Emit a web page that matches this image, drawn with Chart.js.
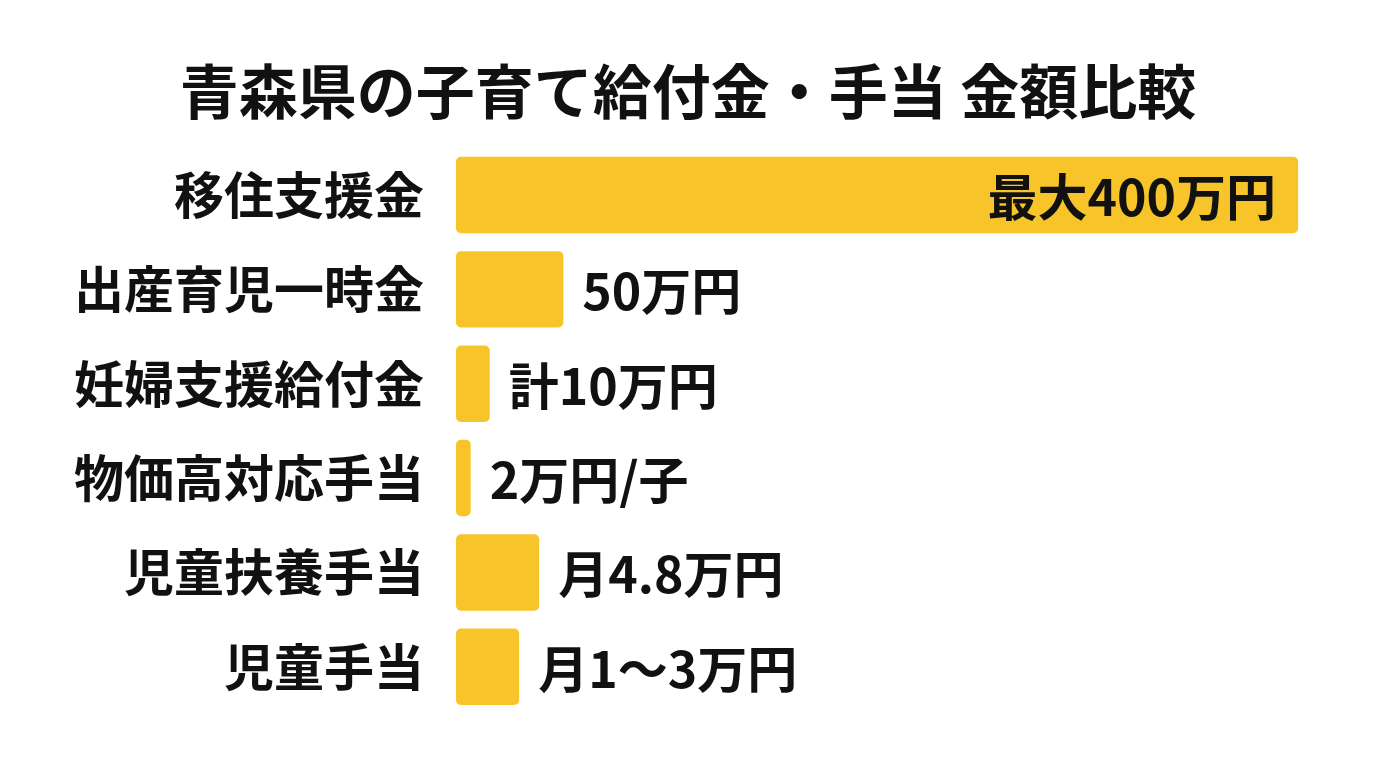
<!DOCTYPE html>
<html lang="ja">
<head>
<meta charset="utf-8">
<title>青森県の子育て給付金・手当 金額比較</title>
<script src="https://cdn.jsdelivr.net/npm/chart.js@4/dist/chart.umd.min.js"></script>
<style>
    html, body { margin: 0; padding: 0; background: #ffffff; }
    #wrap { width: 1376px; height: 768px; }
</style>
</head>
<body>
<div id="wrap"><canvas id="benefitChart"></canvas></div>
<script>

const categories = ["移住支援金", "出産育児一時金", "妊婦支援給付金", "物価高対応手当", "児童扶養手当", "児童手当"];
const barValues = [400, 51, 16, 7, 39.5, 30];
const valueLabels = ["最大400万円", "50万円", "計10万円", "2万円/子", "月4.8万円", "月1〜3万円"];
const axisMax = 437;

const fontFamily = "'Noto Sans CJK JP', 'Noto Sans', sans-serif";

// writes the amount text next to (or inside) each bar
const valueLabelPlugin = {
    id: "valueLabels",
    afterDatasetsDraw(chart) {
        const ctx = chart.ctx;
        const bars = chart.getDatasetMeta(0).data;
        ctx.save();
        ctx.font = "bold 50px " + fontFamily;
        ctx.fillStyle = "#111111";
        ctx.textBaseline = "middle";
        bars.forEach((bar, i) => {
            if (i === 0) {
                ctx.textAlign = "right";
                ctx.fillText(valueLabels[i], bar.x - 22, bar.y + 2);
            } else {
                ctx.textAlign = "left";
                ctx.fillText(valueLabels[i], bar.x + 19, bar.y + 2);
            }
        });
        ctx.restore();
    }
};

const ctx = document.getElementById("benefitChart").getContext("2d");

new Chart(ctx, {
    type: "bar",
    data: {
        labels: categories,
        datasets: [{
            data: barValues,
            backgroundColor: "#F7C52A",
            borderRadius: 5,
            borderSkipped: false,
            barPercentage: 0.81,
            categoryPercentage: 1
        }]
    },
    options: {
        indexAxis: "y",
        responsive: true,
        maintainAspectRatio: false,
        animation: false,
        layout: {
            padding: { top: 0, right: 0, bottom: 37, left: 0 }
        },
        plugins: {
            legend: { display: false },
            tooltip: { enabled: false },
            title: {
                display: true,
                text: "青森県の子育て給付金・手当 金額比較",
                color: "#111111",
                font: { family: fontFamily, size: 59, weight: "bold", lineHeight: 1.2 },
                padding: { top: 56, bottom: 21 }
            }
        },
        scales: {
            x: {
                display: false,
                min: 0,
                max: axisMax
            },
            y: {
                grid: { display: false },
                border: { display: false },
                ticks: {
                    color: "#111111",
                    padding: 24,
                    font: { family: fontFamily, size: 50, weight: "bold" }
                },
                afterFit(scale) {
                    scale.width = 456;
                }
            }
        }
    },
    plugins: [valueLabelPlugin]
});

</script>
</body>
</html>
